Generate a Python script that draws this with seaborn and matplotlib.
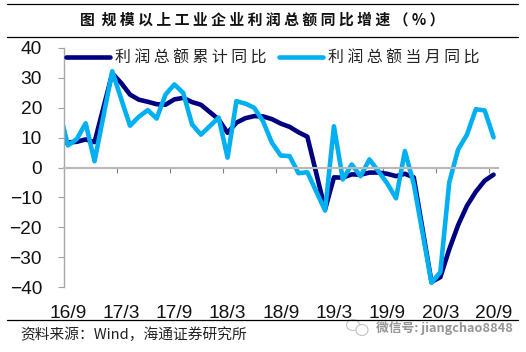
import matplotlib
matplotlib.use("Agg")
import matplotlib.pyplot as plt
from matplotlib.lines import Line2D
from matplotlib.patches import Ellipse
import pandas as pd
import seaborn as sns

# months since 2016/9 (2016/8 is clipped by the axis; January is not reported)
months = [-1, 0, 1, 2, 3, 5, 6, 7, 8, 9, 10, 11, 12, 13, 14, 15,
          17, 18, 19, 20, 21, 22, 23, 24, 25, 26, 27,
          29, 30, 31, 32, 33, 34, 35, 36, 37, 38, 39,
          41, 42, 43, 44, 45, 46, 47, 48]
cumulative = [8.4, 8.4, 8.6, 9.4, 8.5, 31.5, 28.3, 24.4, 22.7, 22.0, 21.2, 21.0, 22.8, 23.3, 21.9, 21.0,
              16.1, 11.6, 15.0, 16.5, 17.2, 17.1, 16.2, 14.7, 13.6, 11.8, 10.3,
              -14.0, -3.3, -3.4, -2.3, -2.4, -1.7, -1.7, -2.1, -2.9, -2.1, -3.3,
              -38.3, -36.7, -27.4, -19.3, -12.8, -8.1, -4.4, -2.4]
monthly = [19.5, 7.4, 9.5, 14.8, 2.1, 32.2, 23.0, 14.0, 17.0, 19.2, 16.4, 24.4, 27.8, 25.0, 14.4, 11.0,
           16.7, 3.3, 22.2, 21.4, 20.0, 15.5, 8.3, 4.0, 3.8, -1.9, -1.6,
           -14.4, 13.8, -4.0, 1.0, -2.9, 2.7, -1.2, -5.3, -10.3, 5.5, -5.5,
           -38.6, -35.0, -5.0, 6.0, 11.0, 19.5, 19.1, 10.1]
x_labels = ["16/9", "17/3", "17/9", "18/3", "18/9", "19/3", "19/9", "20/3", "20/9"]
x_label_pos = [0, 6, 12, 18, 24, 30, 36, 42, 48]
x_tick_pos = [-0.5, 5.5, 11.5, 17.5, 23.5, 29.5, 35.5, 41.5, 47.5]
y_ticks = [-40, -30, -20, -10, 0, 10, 20, 30, 40]
name_a = "利 润 总 额 累 计 同 比"
name_b = "利 润 总 额 当 月 同 比"
title = "图  规 模 以 上 工 业 企 业 利 润 总 额 同 比 增 速 （ % ）"
source = "资料来源：Wind，海通证券研究所"
mark = "微信号: jiangchao8848"

sns.set_theme(style="white")
CJK = ["Noto Sans CJK SC", "DejaVu Sans"]
plt.rcParams["font.family"] = ["Liberation Sans", "Noto Sans CJK SC", "DejaVu Sans"]

W, H = 526, 352
fig = plt.figure(figsize=(W / 100, H / 100), dpi=100)
ax = fig.add_axes([63.5 / W, 1 - 287 / H, 434.5 / W, 239 / H])

df = pd.DataFrame({"m": months * 2,
                   "v": cumulative + monthly,
                   "s": [name_a] * len(months) + [name_b] * len(months)})
sns.lineplot(data=df, x="m", y="v", hue="s", palette=["#000080", "#00B0F0"],
             estimator=None, errorbar=None, linewidth=3.3, ax=ax,
             solid_joinstyle="round", solid_capstyle="round")

ax.set_xlim(-0.5, 48.5)
ax.set_ylim(-40, 40)
ax.set_xlabel("")
ax.set_ylabel("")
ax.set_yticks(y_ticks)
ax.set_xticks(x_tick_pos)
ax.set_xticklabels([])
ax.tick_params(axis="y", length=4.5, width=0.8, color="#a0a0a0", pad=11,
               left=True, labelsize=13.8, labelcolor="#111111")
ax.tick_params(axis="x", length=3.5, width=0.8, color="#808080", bottom=True)
for s in ("top", "right"):
    ax.spines[s].set_visible(False)
ax.spines["bottom"].set_position(("data", 0))
ax.spines["bottom"].set_color("#b8b8b8")
ax.spines["bottom"].set_linewidth(1.5)
ax.spines["left"].set_color("#a8a8a8")
ax.spines["left"].set_linewidth(1.0)

sec = ax.secondary_xaxis("bottom")
sec.set_xticks(x_label_pos, labels=x_labels)
sec.tick_params(length=0, pad=13, labelsize=13.8, labelcolor="#111111")
sec.spines["bottom"].set_visible(False)

handles = [Line2D([], [], color="#000080", lw=3.3, solid_capstyle="round"),
           Line2D([], [], color="#00B0F0", lw=3.3, solid_capstyle="round")]
leg = ax.legend(handles, [name_a, name_b], ncol=2, frameon=False,
                loc="upper left", bbox_to_anchor=(0.002, 1.0), borderaxespad=0, borderpad=0.1,
                handlelength=2.8, handletextpad=0.3, columnspacing=0.75,
                prop={"family": CJK, "size": 11.45})
for t in leg.get_texts():
    t.set_color("#222222")

fig.add_artist(Line2D([7 / W, 518 / W], [1 - 3.5 / H] * 2, color="black", lw=0.9))
fig.add_artist(Line2D([7 / W, 518 / W], [1 - 37 / H] * 2, color="black", lw=0.9))
fig.add_artist(Line2D([7 / W, 518 / W], [1 - 320 / H] * 2, color="black", lw=0.9))

fig.text(262 / W, 1 - 20 / H, title, ha="center", va="center", family=CJK,
         fontsize=10.7, fontweight="bold", color="#111111")
fig.text(20 / W, 1 - 335 / H, source, ha="left", va="center", family=CJK,
         fontsize=10.6, color="#222222")
fig.text(376 / W, 1 - 328 / H, mark, ha="left", va="center", family=CJK,
         fontsize=9.2, fontweight="bold", color="#969696")

fig.add_artist(Ellipse((353 / W, 1 - 325 / H), 13 / W, 11 / H, transform=fig.transFigure,
                       fc="white", ec="#c4c4c4", lw=0.8))
fig.add_artist(Ellipse((362 / W, 1 - 330 / H), 12 / W, 11 / H, transform=fig.transFigure,
                       fc="white", ec="#c4c4c4", lw=0.8))

fig.savefig("out.png", dpi=100)
